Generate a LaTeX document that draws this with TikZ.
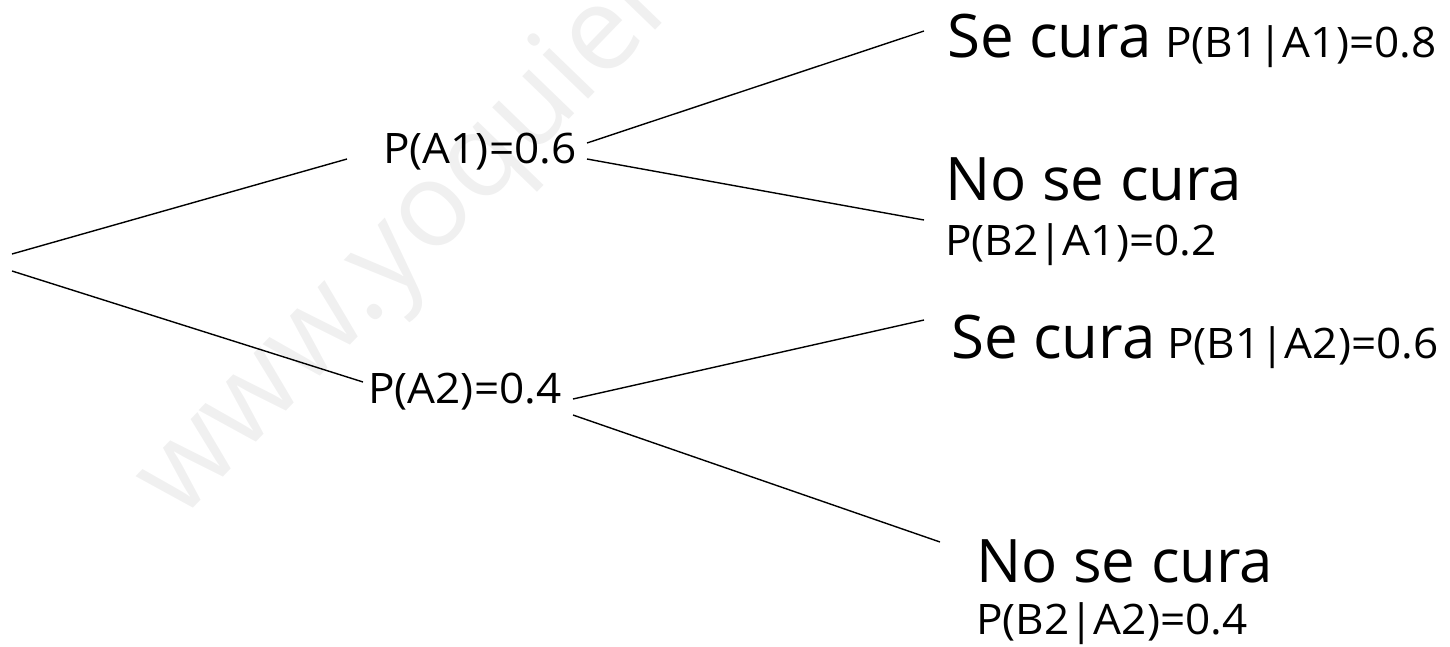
\documentclass[tikz,border=0pt]{standalone}
\usepackage{fontspec}
\setmainfont{Open Sans}
\newfontfamily\labelfam{Open Sans}[FakeStretch=1.05]
\begin{document}
\begin{tikzpicture}[x=1pt,y=-1pt]
\tikzset{
  branch/.style={line width=1.4pt, black},
  small/.style={inner sep=0pt, anchor=base west, font=\labelfam\fontsize{42}{42}\selectfont},
  big/.style={inner sep=0pt, anchor=base west, font=\fontsize{60}{60}\selectfont},
  wmark/.style={inner sep=0pt, anchor=base west, rotate=46, text=black!6, font=\fontsize{118}{118}\selectfont}
}
\useasboundingbox (0,0) rectangle (1450,646);
\clip (0,0) rectangle (1450,646);
% watermark
\node[wmark] (wm) at (180,522) {www.yoquieroaprobar.es};
% labels
\node[small] (pa1) at (383,163) {P(A1)=0.6};
\node[small] (pa2) at (368,403) {P(A2)=0.4};
\node[big] (s1) at (947,57) {Se cura};
\node[small] (p11) at (1165,57) {P(B1|A1)=0.8};
\node[big] (n1) at (945,200) {No se cura};
\node[small] (p21) at (945,255) {P(B2|A1)=0.2};
\node[big] (s2) at (951,358) {Se cura};
\node[small] (p12) at (1167,358) {P(B1|A2)=0.6};
\node[big] (n2) at (976,582) {No se cura};
\node[small] (p22) at (976,634) {P(B2|A2)=0.4};
% connector end points
\coordinate (r1) at (12,254);
\coordinate (r2) at (12,271);
\coordinate (a1in) at (347,159);
\coordinate (a2in) at (363,382);
\coordinate (a1u) at (587,143);
\coordinate (a1d) at (587,159);
\coordinate (a2u) at (573,399);
\coordinate (a2d) at (573,415);
\coordinate (s1in) at (924,31);
\coordinate (n1in) at (924,220);
\coordinate (s2in) at (924,320);
\coordinate (n2in) at (940,542);
% connectors
\draw[branch] (r1) -- (a1in);
\draw[branch] (r2) -- (a2in);
\draw[branch] (a1u) -- (s1in);
\draw[branch] (a1d) -- (n1in);
\draw[branch] (a2u) -- (s2in);
\draw[branch] (a2d) -- (n2in);
\end{tikzpicture}
\end{document}
